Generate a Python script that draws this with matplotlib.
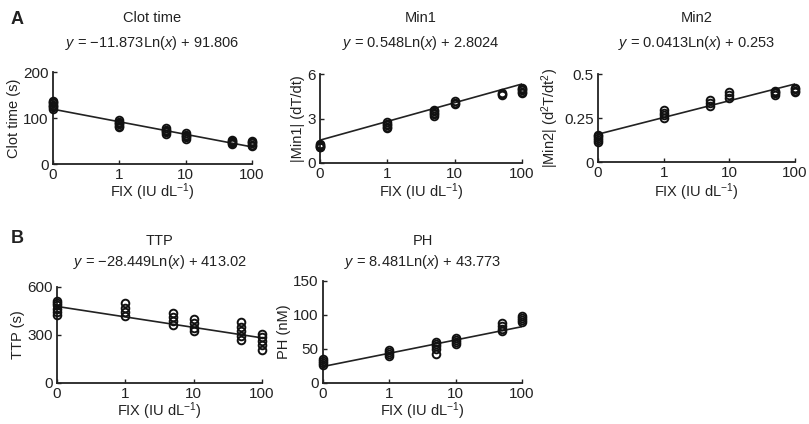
import numpy as np
import matplotlib
matplotlib.use("Agg")
import matplotlib.pyplot as plt

plt.rcParams["font.family"] = ["Liberation Sans", "DejaVu Sans"]
plt.rcParams["mathtext.fontset"] = "custom"
plt.rcParams["mathtext.rm"] = "Liberation Sans"
plt.rcParams["mathtext.it"] = "Liberation Sans:italic"
plt.rcParams["mathtext.default"] = "regular"

# FIX levels (IU/dL); the 0 level sits at the axis origin tick (0.1 on the log axis)
fix_levels = [0, 1, 5, 10, 50, 100]
fix_tick_pos = [0.1, 1, 10, 100]
fix_tick_labels = ["0", "1", "10", "100"]

# Replicate measurements at each FIX level
clot_time = [[120, 123, 126, 129, 132, 135, 137],
             [80, 83, 86, 89, 92, 95],
             [66, 69, 72, 75, 78],
             [55, 58, 61, 64, 67],
             [44, 46, 48, 50, 52],
             [39, 42, 45, 48, 51]]
min1 = [[1.05, 1.1, 1.15, 1.2, 1.25],
        [2.35, 2.45, 2.55, 2.65, 2.75],
        [3.2, 3.3, 3.4, 3.5, 3.6],
        [3.95, 4.05, 4.15],
        [4.6, 4.65, 4.7],
        [4.7, 4.8, 4.9, 5.0, 5.05]]
min2 = [[0.115, 0.125, 0.135, 0.145, 0.155],
        [0.25, 0.265, 0.28, 0.295],
        [0.32, 0.335, 0.35],
        [0.365, 0.38, 0.395],
        [0.38, 0.39, 0.40, 0.405],
        [0.395, 0.405, 0.415, 0.42]]
ttp = [[425, 445, 465, 485, 500, 515],
       [420, 445, 470, 500],
       [360, 385, 410, 438],
       [322, 346, 372, 398],
       [268, 296, 325, 352, 381],
       [208, 235, 260, 285, 307]]
ph = [[26, 29, 32, 35],
      [40, 43, 46, 49],
      [42, 50, 54, 58, 61],
      [57, 60, 63, 66],
      [76, 80, 84, 88],
      [90, 93, 96, 99]]

# Logarithmic fits y = a*Ln(x) + b
fit_slope = [-11.873, 0.548, 0.0413, -28.449, 8.481]
fit_intercept = [91.806, 2.8024, 0.253, 413.02, 43.773]
fit_text = [r"$\mathit{y}$ = \u221211.873Ln($\mathit{x}$) + 91.806",
            r"$\mathit{y}$ = 0.548Ln($\mathit{x}$) + 2.8024",
            r"$\mathit{y}$ = 0.0413Ln($\mathit{x}$) + 0.253",
            r"$\mathit{y}$ = \u221228.449Ln($\mathit{x}$) + 413.02",
            r"$\mathit{y}$ = 8.481Ln($\mathit{x}$) + 43.773"]
fit_text = [s.replace(r"\u2212", "\u2212") for s in fit_text]

titles = ["Clot time", "Min1", "Min2", "TTP", "PH"]
ylabels = ["Clot time (s)", "|Min1| (dT/dt)", "|Min2| (d$^2$T/dt$^2$)",
           "TTP (s)", "PH (nM)"]
yticks = [[0, 100, 200], [0, 3, 6], [0, 0.25, 0.5], [0, 300, 600],
          [0, 50, 100, 150]]
ytick_labels = [["0", "100", "200"], ["0", "3", "6"], ["0", "0.25", "0.5"],
                ["0", "300", "600"], ["0", "50", "100", "150"]]
series = [clot_time, min1, min2, ttp, ph]

W, H = 809, 424
fig = plt.figure(figsize=(W / 100, H / 100), dpi=100)
fig.patch.set_facecolor("white")

# panel boxes in pixels: left, right, top, bottom
boxes = [(53, 252, 72, 164), (320, 522, 74, 163), (598, 795, 74, 162),
         (57, 262, 287, 383), (323, 522, 281, 383)]
title_y = [18, 18, 18, 241, 241]
eq_y = [43, 43, 43, 262, 262]
xlabel_y = [192, 192, 192, 411, 411]

ink = "#222222"

for i, (l, r, t, b) in enumerate(boxes):
    ax = fig.add_axes([l / W, 1 - b / H, (r - l) / W, (b - t) / H])
    ax.set_xscale("log")
    ax.set_xlim(0.1, 100)
    ax.set_ylim(yticks[i][0], yticks[i][-1])
    for sp in ("top", "right"):
        ax.spines[sp].set_visible(False)
    for sp in ("left", "bottom"):
        ax.spines[sp].set_color(ink)
        ax.spines[sp].set_linewidth(1.3)
    ax.set_xticks(fix_tick_pos)
    ax.set_xticklabels(fix_tick_labels)
    ax.xaxis.set_minor_locator(matplotlib.ticker.NullLocator())
    ax.set_yticks(yticks[i])
    ax.set_yticklabels(ytick_labels[i])
    ax.tick_params(direction="in", length=3, width=1, colors=ink,
                   labelsize=11, pad=3)
    ax.set_xlabel("FIX (IU dL$^{-1}$)", fontsize=10.5, color=ink)
    ax.xaxis.label.set_va("center")
    ax.xaxis.set_label_coords(0.5, -(xlabel_y[i] - b) / (b - t))
    ax.set_ylabel(ylabels[i], fontsize=10.5, color=ink, labelpad=2)

    # regression line across the plotted range
    xs = np.logspace(-1, 2, 100)
    ax.plot(xs, fit_slope[i] * np.log(xs) + fit_intercept[i],
            color=ink, lw=1.2, zorder=2)

    # replicate points
    for lvl, vals in zip(fix_levels, series[i]):
        xp = 0.1 if lvl == 0 else lvl
        ax.plot([xp] * len(vals), vals, "o", ms=5.5, mfc="none",
                mec="#111111", mew=1.4, clip_on=False, zorder=3)

    cx = (l + r) / 2 / W
    fig.text(cx, 1 - title_y[i] / H, titles[i], ha="center", va="center",
             fontsize=10.5, color=ink)
    fig.text(cx, 1 - eq_y[i] / H, fit_text[i], ha="center", va="center",
             fontsize=10.5, color=ink)

fig.text(17 / W, 1 - 20 / H, "A", fontsize=13, fontweight="bold",
         ha="center", va="center", color=ink)
fig.text(17 / W, 1 - 239 / H, "B", fontsize=13, fontweight="bold",
         ha="center", va="center", color=ink)

fig.savefig("out.png", dpi=100, facecolor="white")
